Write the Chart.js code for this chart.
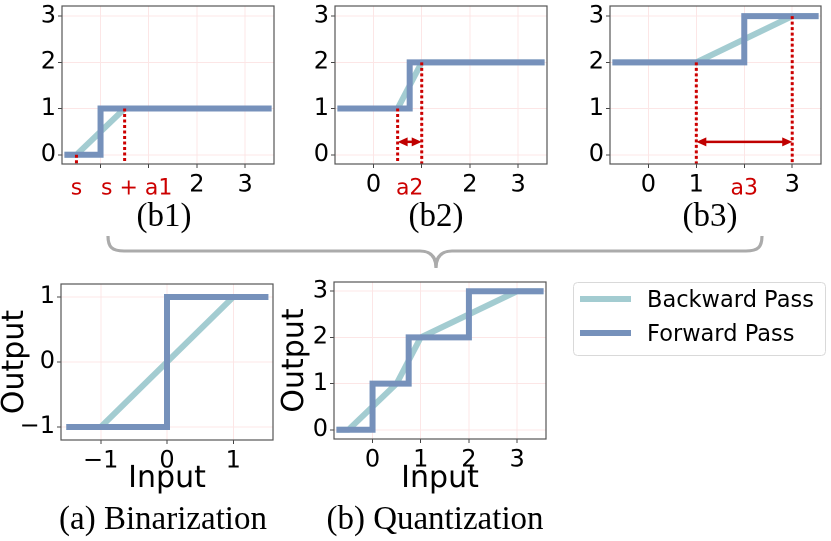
<!DOCTYPE html>
<html>
<head>
<meta charset="utf-8">
<script src="https://cdn.jsdelivr.net/npm/chart.js@4.4.0/dist/chart.umd.min.js"></script>
<style>
  body { margin: 0; background: #fff; width: 831px; height: 541px; overflow: hidden; position: relative; }
  canvas { position: absolute; }
  svg { position: absolute; left: 0; top: 0; }
</style>
</head>
<body>
<canvas id="b1" width="280" height="200" style="left:0;top:0"></canvas>
<canvas id="b2" width="272" height="200" style="left:280px;top:0"></canvas>
<canvas id="b3" width="275" height="200" style="left:556px;top:0"></canvas>
<canvas id="bin" width="280" height="224" style="left:0;top:270px"></canvas>
<canvas id="quant" width="270" height="224" style="left:280px;top:270px"></canvas>
<svg id="deco" width="831" height="541"></svg>

<script>
// series
const seriesNames = ['Backward Pass', 'Forward Pass'];
const seriesColors = ['#a3ccd1', '#7691bb'];

// (b1)
const b1BackX = [-0.75, -0.5, 0.5, 3.55];
const b1BackY = [0, 0, 1, 1];
const b1FwdX = [-0.75, 0, 0, 3.55];
const b1FwdY = [0, 0, 1, 1];
// (b2)
const b2BackX = [-0.75, 0.5, 1, 3.55];
const b2BackY = [1, 1, 2, 2];
const b2FwdX = [-0.75, 0.75, 0.75, 3.55];
const b2FwdY = [1, 1, 2, 2];
// (b3)
const b3BackX = [-0.75, 1, 3, 3.55];
const b3BackY = [2, 2, 3, 3];
const b3FwdX = [-0.75, 2, 2, 3.55];
const b3FwdY = [2, 2, 3, 3];
// (a) binarization
const binBackX = [-1.52, -1, 1, 1.53];
const binBackY = [-1, -1, 1, 1];
const binFwdX = [-1.52, 0, 0, 1.53];
const binFwdY = [-1, -1, 1, 1];
// (b) quantization
const quantBackX = [-0.75, -0.5, 0.5, 1, 3, 3.55];
const quantBackY = [0, 0, 1, 2, 3, 3];
const quantFwdX = [-0.75, 0, 0, 0.75, 0.75, 2, 2, 3.55];
const quantFwdY = [0, 0, 1, 1, 2, 2, 3, 3];

// ticks
const quantTicks = [0, 1, 2, 3];
const quantLabels = ['0', '1', '2', '3'];
const b1XLabels = ['', '', '2', '3'];
const b2XLabels = ['0', '', '2', '3'];
const b3XLabels = ['0', '1', '', '3'];
const binTicks = [-1, 0, 1];
const binLabels = ['\u22121', '0', '1'];

// red notes
const b1DropX = [-0.5, 0.5];
const b1DropY = [0, 1];
const b1NoteX = [-0.5, 0.75];
const b1Notes = ['s', 's + a1'];
const b2DropX = [0.5, 1];
const b2DropY = [1, 2];
const b2Arrow = [0.5, 1, 0.28];
const b2NoteX = [0.75];
const b2Notes = ['a2'];
const b3DropX = [1, 3];
const b3DropY = [2, 3];
const b3Arrow = [1, 3, 0.28];
const b3NoteX = [2];
const b3Notes = ['a3'];

const FONT = 'DejaVu Sans';
const RED = '#cc0000';
const GRID = '#fce6e6';

const pts = (xs, ys) => xs.map((v, i) => ({ x: v, y: ys[i] }));

// box around the plot
const framePlugin = {
  id: 'frame',
  afterDraw(chart) {
    const { ctx, chartArea: a } = chart;
    ctx.save();
    ctx.strokeStyle = '#555';
    ctx.lineWidth = 1.2;
    ctx.strokeRect(a.left, a.top, a.right - a.left, a.bottom - a.top);
    ctx.restore();
  }
};

// red dotted drops, arrows and labels
const notesPlugin = {
  id: 'notes',
  afterDatasetsDraw(chart, args, opts) {
    if (!opts.dropX) return;
    const { ctx, chartArea: a, scales: { x, y } } = chart;
    ctx.save();
    ctx.strokeStyle = RED;
    ctx.lineWidth = 3;
    ctx.setLineDash([3, 2.5]);
    opts.dropX.forEach((v, i) => {
      const px = x.getPixelForValue(v);
      ctx.beginPath();
      ctx.moveTo(px, y.getPixelForValue(opts.dropY[i]));
      ctx.lineTo(px, a.bottom);
      ctx.stroke();
    });
    ctx.setLineDash([]);
    if (opts.arrow) {
      const x1 = x.getPixelForValue(opts.arrow[0]);
      const x2 = x.getPixelForValue(opts.arrow[1]);
      const py = y.getPixelForValue(opts.arrow[2]);
      ctx.strokeStyle = '#c00000';
      ctx.fillStyle = '#c00000';
      ctx.lineWidth = 2.5;
      ctx.beginPath();
      ctx.moveTo(x1 + 6, py);
      ctx.lineTo(x2 - 6, py);
      ctx.stroke();
      [[x1, 1], [x2, -1]].forEach(([hx, d]) => {
        ctx.beginPath();
        ctx.moveTo(hx, py);
        ctx.lineTo(hx + d * 10, py - 4.5);
        ctx.lineTo(hx + d * 10, py + 4.5);
        ctx.closePath();
        ctx.fill();
      });
    }
    ctx.fillStyle = RED;
    ctx.font = '22px "' + FONT + '"';
    ctx.textAlign = 'center';
    ctx.textBaseline = 'middle';
    opts.noteX.forEach((v, i) => {
      ctx.fillText(opts.notes[i], x.getPixelForValue(v), a.bottom + 25);
    });
    ctx.restore();
  }
};

function makeChart(id, c) {
  const tickFont = { family: FONT, size: 24 };
  const titleFont = { family: FONT, size: 30, lineHeight: 1 };
  new Chart(document.getElementById(id), {
    type: 'scatter',
    data: {
      datasets: [
        { label: seriesNames[0], data: pts(c.back[0], c.back[1]), showLine: true,
          borderColor: seriesColors[0], borderWidth: 6, pointRadius: 0, order: 2, borderCapStyle: 'butt' },
        { label: seriesNames[1], data: pts(c.fwd[0], c.fwd[1]), showLine: true,
          borderColor: seriesColors[1], borderWidth: 6, pointRadius: 0, order: 1, borderCapStyle: 'butt' }
      ]
    },
    options: {
      responsive: false,
      animation: false,
      events: [],
      devicePixelRatio: 2,
      layout: { padding: { top: c.padTop, right: c.padRight, left: 0, bottom: 0 } },
      plugins: {
        legend: { display: false },
        tooltip: { enabled: false },
        notes: c.notes || {}
      },
      scales: {
        x: {
          type: 'linear', min: c.xRange[0], max: c.xRange[1],
          afterBuildTicks: s => { s.ticks = c.xTicks.map(v => ({ value: v })); },
          afterFit: s => { s.height = c.xAxisH; s.paddingLeft = 0; s.paddingRight = 0; },
          ticks: { callback: (v, i) => c.xLabels[i], font: tickFont, color: '#000', padding: 3, maxRotation: 0, autoSkip: false },
          grid: { color: GRID, tickColor: '#444', tickLength: 4, lineWidth: 1 },
          border: { display: false },
          title: c.titles ? { display: true, text: 'Input', font: titleFont, color: '#000', padding: 0 } : { display: false }
        },
        y: {
          type: 'linear', min: c.yRange[0], max: c.yRange[1],
          afterBuildTicks: s => { s.ticks = c.yTicks.map(v => ({ value: v })); },
          afterFit: s => { s.width = c.yAxisW; s.paddingTop = 0; s.paddingBottom = 0; },
          ticks: { callback: (v, i) => c.yLabels[i], font: tickFont, color: '#000', padding: 2, autoSkip: false },
          grid: { color: GRID, tickColor: '#444', tickLength: 4, lineWidth: 1 },
          border: { display: false },
          title: c.titles ? { display: true, text: 'Output', font: titleFont, color: '#000', padding: { top: 0 } } : { display: false }
        }
      }
    },
    plugins: [framePlugin, notesPlugin]
  });
}

const topX = [-0.8, 3.6];
const topY = [-0.2, 3.22];

makeChart('b1', {
  back: [b1BackX, b1BackY], fwd: [b1FwdX, b1FwdY],
  xRange: topX, yRange: topY, xTicks: quantTicks, xLabels: b1XLabels, yTicks: quantTicks, yLabels: quantLabels,
  padTop: 6, padRight: 6, yAxisW: 62, xAxisH: 36,
  notes: { dropX: b1DropX, dropY: b1DropY, noteX: b1NoteX, notes: b1Notes }
});
makeChart('b2', {
  back: [b2BackX, b2BackY], fwd: [b2FwdX, b2FwdY],
  xRange: topX, yRange: topY, xTicks: quantTicks, xLabels: b2XLabels, yTicks: quantTicks, yLabels: quantLabels,
  padTop: 6, padRight: 5, yAxisW: 55, xAxisH: 36,
  notes: { dropX: b2DropX, dropY: b2DropY, arrow: b2Arrow, noteX: b2NoteX, notes: b2Notes }
});
makeChart('b3', {
  back: [b3BackX, b3BackY], fwd: [b3FwdX, b3FwdY],
  xRange: topX, yRange: topY, xTicks: quantTicks, xLabels: b3XLabels, yTicks: quantTicks, yLabels: quantLabels,
  padTop: 6, padRight: 10, yAxisW: 54, xAxisH: 36,
  notes: { dropX: b3DropX, dropY: b3DropY, arrow: b3Arrow, noteX: b3NoteX, notes: b3Notes }
});
makeChart('bin', {
  back: [binBackX, binBackY], fwd: [binFwdX, binFwdY],
  xRange: [-1.6, 1.6], yRange: [-1.2, 1.2], xTicks: binTicks, xLabels: binLabels, yTicks: binTicks, yLabels: binLabels,
  padTop: 14, padRight: 7, yAxisW: 61, xAxisH: 54, titles: true
});
makeChart('quant', {
  back: [quantBackX, quantBackY], fwd: [quantFwdX, quantFwdY],
  xRange: [-0.8, 3.6], yRange: [-0.2, 3.2], xTicks: quantTicks, xLabels: quantLabels, yTicks: quantTicks, yLabels: quantLabels,
  padTop: 12, padRight: 4, yAxisW: 54, xAxisH: 55, titles: true
});

// brace, captions, legend
const NS = 'http://www.w3.org/2000/svg';
const svg = document.getElementById('deco');
function add(tag, attrs, text) {
  const el = document.createElementNS(NS, tag);
  for (const k in attrs) el.setAttribute(k, attrs[k]);
  if (text) el.textContent = text;
  svg.appendChild(el);
  return el;
}
add('path', {
  d: 'M108,236 C108,247 112,251 124,251 L420,251 C430,251 436,256 436,268 C436,256 442,251 452,251 L746,251 C758,251 762,247 762,236',
  fill: 'none', stroke: '#ababab', 'stroke-width': 3.2
});
const captions = [['(b1)', 164, 226], ['(b2)', 436, 226], ['(b3)', 710, 226],
  ['(a) Binarization', 163, 529], ['(b) Quantization', 435, 529]];
captions.forEach(([t, x, y]) => add('text', {
  x, y, 'text-anchor': 'middle', 'font-family': 'Liberation Serif', 'font-size': 33, fill: '#000'
}, t));

add('rect', { x: 573.5, y: 282.5, width: 252, height: 73, rx: 4, fill: '#fff', stroke: '#d9d9d9', 'stroke-width': 1 });
seriesNames.forEach((name, i) => {
  const ly = 299 + i * 34;
  add('line', { x1: 580, x2: 631, y1: ly, y2: ly, stroke: seriesColors[i], 'stroke-width': 6 });
  add('text', { x: 647, y: ly + 8, 'font-family': FONT, 'font-size': 22.5, fill: '#000' }, name);
});
</script>
</body>
</html>
